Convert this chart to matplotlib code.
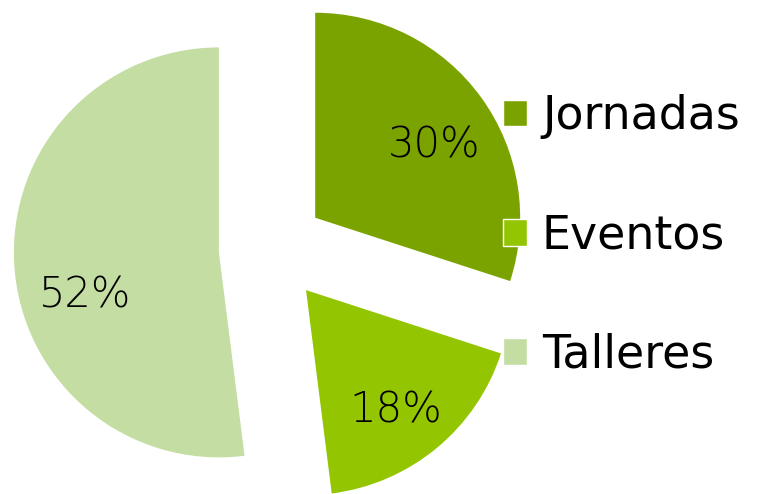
import matplotlib
matplotlib.use("Agg")
import matplotlib.pyplot as plt
from matplotlib.patches import Patch

categories = ["Jornadas", "Eventos", "Talleres"]
values = [30, 18, 52]
colors = ["#7AA300", "#93C600", "#C4DDA3"]

fig = plt.figure(figsize=(7.61, 4.94), dpi=100)
ax = fig.add_axes([0, 0, 1, 1])
wedges, texts, autotexts = ax.pie(
    values, colors=colors, startangle=90, counterclock=False,
    explode=[0.26] * 3, autopct="%1.0f%%", pctdistance=0.69,
    textprops=dict(fontsize=30, color="black", family="DejaVu Sans"),
    wedgeprops=dict(linewidth=0),
)
# label nudges (in pie radius units) to match the reference placement
nudges = [(0.02, -0.05), (0.0, -0.055), (0.035, -0.165)]
for t, (dx, dy) in zip(autotexts, nudges):
    t.set_fontweight("light")
    x, y = t.get_position()
    t.set_position((x + dx, y + dy))
ax.set_aspect("equal")
ax.set_xlim(-1.327, 2.385)
ax.set_ylim(-1.195, 1.215)
ax.axis("off")

handles = [Patch(facecolor=c, edgecolor="white", linewidth=1) for c in colors]
fig.legend(handles, categories, loc="center left",
           bbox_to_anchor=(503 / 761, 1 - 236 / 494),
           frameon=False, borderpad=0, borderaxespad=0,
           handlelength=0.52, handleheight=0.52, handletextpad=0.33,
           labelspacing=1.62, prop=dict(family="DejaVu Sans", size=33))

fig.savefig("out.png", dpi=100)
